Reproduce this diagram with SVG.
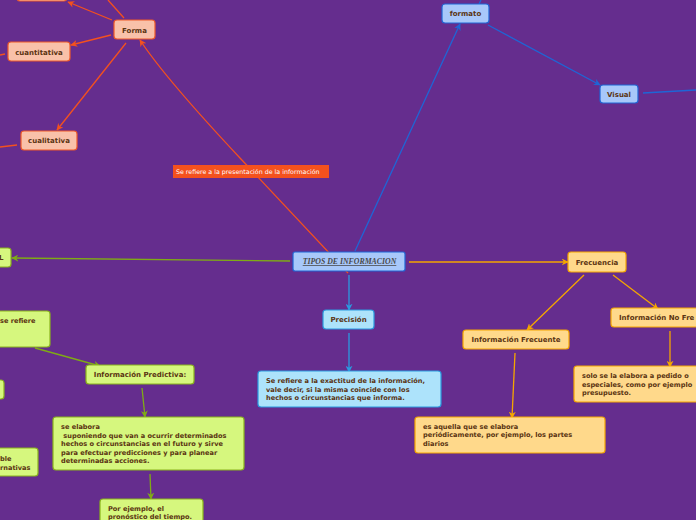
<svg xmlns="http://www.w3.org/2000/svg" width="696" height="520" viewBox="0 0 696 520">
<defs>
<style>
.t{font-family:"DejaVu Sans","Verdana",sans-serif;font-weight:bold;font-size:6.6px;fill:#5a3412}
.h{font-size:7px}
.tc{text-anchor:middle}
.pe rect{fill:#f9c1a9;stroke:#f05a28;stroke-width:1.2}
.bl rect{fill:#a8c8fa;stroke:#1e66d6;stroke-width:1.2}
.cy rect{fill:#ade3fb;stroke:#2a9be0;stroke-width:1.2}
.gr rect{fill:#d6f77e;stroke:#8ab41c;stroke-width:1.2}
.yl rect{fill:#ffd98b;stroke:#f5a600;stroke-width:1.2}
.co{fill:none;stroke-width:1.3}
.o{stroke:#f4511e}
.b{stroke:#1e66d6}
.c{stroke:#2a9be0}
.g{stroke:#7fab15}
.y{stroke:#f5a600}
</style>
<marker id="ao" viewBox="0 0 10 10" refX="9" refY="5" markerWidth="7" markerHeight="7" markerUnits="userSpaceOnUse" orient="auto"><path d="M0,0 L10,5 L0,10 L3,5 z" fill="#f4511e"/></marker>
<marker id="ab" viewBox="0 0 10 10" refX="9" refY="5" markerWidth="7" markerHeight="7" markerUnits="userSpaceOnUse" orient="auto"><path d="M0,0 L10,5 L0,10 L3,5 z" fill="#1e66d6"/></marker>
<marker id="ac" viewBox="0 0 10 10" refX="9" refY="5" markerWidth="7" markerHeight="7" markerUnits="userSpaceOnUse" orient="auto"><path d="M0,0 L10,5 L0,10 L3,5 z" fill="#2a9be0"/></marker>
<marker id="ag" viewBox="0 0 10 10" refX="9" refY="5" markerWidth="7" markerHeight="7" markerUnits="userSpaceOnUse" orient="auto"><path d="M0,0 L10,5 L0,10 L3,5 z" fill="#7fab15"/></marker>
<marker id="ay" viewBox="0 0 10 10" refX="9" refY="5" markerWidth="7" markerHeight="7" markerUnits="userSpaceOnUse" orient="auto"><path d="M0,0 L10,5 L0,10 L3,5 z" fill="#f5a600"/></marker>
</defs>
<rect width="696" height="520" fill="#652d8e"/>

<g id="connectors">
<path class="co o" d="M348,273 L240,158 Q165,78 140,40" marker-end="url(#ao)"/>
<path class="co o" d="M112,20 L68,2" marker-end="url(#ao)"/>
<path class="co o" d="M124,18 L108,0"/>
<path class="co o" d="M111,35 L71,45" marker-end="url(#ao)"/>
<path class="co o" d="M126,43 L57,130" marker-end="url(#ao)"/>
<path class="co o" d="M0,55 L5,54"/>
<path class="co o" d="M0,147 L17,145"/>
<path class="co b" d="M355,251 L460,24" marker-end="url(#ab)"/>
<path class="co b" d="M479,4 L481,0"/>
<path class="co b" d="M488,25 L600,85" marker-end="url(#ab)"/>
<path class="co b" d="M643,93 L696,90"/>
<path class="co g" d="M290,261 L12,258" marker-end="url(#ag)"/>
<path class="co g" d="M35,348 L100,366" marker-end="url(#ag)"/>
<path class="co g" d="M142,388 L145,417" marker-end="url(#ag)"/>
<path class="co g" d="M150,474 L151,499" marker-end="url(#ag)"/>
<path class="co c" d="M349,275 L349,310" marker-end="url(#ac)"/>
<path class="co c" d="M349,333 L349,372" marker-end="url(#ac)"/>
<path class="co y" d="M409,262 L568,262" marker-end="url(#ay)"/>
<path class="co y" d="M584,275 L527,330" marker-end="url(#ay)"/>
<path class="co y" d="M613,275 L658,309" marker-end="url(#ay)"/>
<path class="co y" d="M515,353 L512,418" marker-end="url(#ay)"/>
<path class="co y" d="M670,331 L670,367" marker-end="url(#ay)"/>
</g>

<g id="label-presentacion">
<rect x="173" y="165" width="156" height="13" fill="#f4511e"/>
<text x="176" y="174" font-family="DejaVu Sans, sans-serif" font-size="6.3" fill="#ffffff">Se refiere a la presentación de la información</text>
</g>

<g id="central" class="bl">
<rect x="293" y="252" width="112" height="19" rx="2"/>
<text x="349.5" y="264" text-anchor="middle" font-family="Liberation Serif, serif" font-weight="bold" font-style="italic" font-size="7.8" fill="#4a4a4a" text-decoration="underline">TIPOS DE INFORMACION</text>
</g>

<g id="forma" class="pe"><rect x="114" y="20" width="41" height="19" rx="3"/><text class="t h tc" x="134.5" y="33">Forma</text></g>
<g id="top-node" class="pe"><rect x="17" y="-19" width="50" height="20" rx="3"/></g>
<g id="cuantitativa" class="pe"><rect x="8" y="42" width="62" height="19" rx="3"/><text class="t h tc" x="39" y="55">cuantitativa</text></g>
<g id="cualitativa" class="pe"><rect x="21" y="131" width="56" height="19" rx="3"/><text class="t h tc" x="49" y="143">cualitativa</text></g>

<g id="formato" class="bl"><rect x="442" y="4" width="47" height="19" rx="3"/><text class="t h tc" x="465.5" y="16">formato</text></g>
<g id="visual" class="bl"><rect x="600" y="85" width="38" height="18" rx="3"/><text class="t h tc" x="619" y="97">Visual</text></g>

<g id="node-l" class="gr"><rect x="-20" y="248" width="31" height="19" rx="3"/><text class="t h" x="-1" y="260">L</text></g>
<g id="se-refiere" class="gr"><rect x="-20" y="311" width="70" height="36" rx="3"/><text class="t" x="0" y="323">se refiere</text></g>
<g id="node-small" class="gr"><rect x="-20" y="380" width="24" height="19" rx="3"/></g>
<g id="alternativas" class="gr"><rect x="-20" y="448" width="58" height="28" rx="3"/><text class="t" x="0" y="461">ble</text><text class="t" x="0" y="470">rnativas</text></g>
<g id="predictiva" class="gr"><rect x="86" y="365" width="108" height="19" rx="3"/><text class="t h tc" x="140" y="377">Información Predictiva:</text></g>
<g id="se-elabora" class="gr"><rect x="53" y="417" width="191" height="53" rx="3"/>
<text class="t" x="61" y="429">se elabora</text>
<text class="t" x="61" y="438" xml:space="preserve"> suponiendo que van a ocurrir determinados</text>
<text class="t" x="61" y="446">hechos o circunstancias en el futuro y sirve</text>
<text class="t" x="61" y="455">para efectuar predicciones y para planear</text>
<text class="t" x="61" y="463">determinadas acciones.</text>
</g>
<g id="por-ejemplo" class="gr"><rect x="100" y="499" width="103" height="32" rx="3"/>
<text class="t" x="108" y="511">Por ejemplo, el</text>
<text class="t" x="108" y="519">pronóstico del tiempo.</text>
</g>

<g id="precision" class="cy"><rect x="323" y="310" width="51" height="19" rx="3"/><text class="t h tc" x="348.5" y="322">Precisión</text></g>
<g id="precision-desc" class="cy"><rect x="258" y="371" width="183" height="36" rx="3"/>
<text class="t" x="266" y="383">Se refiere a la exactitud de la información,</text>
<text class="t" x="266" y="392">vale decir, si la misma coincide con los</text>
<text class="t" x="266" y="400">hechos o circunstancias que informa.</text>
</g>

<g id="frecuencia" class="yl"><rect x="568" y="252" width="58" height="20" rx="3"/><text class="t h tc" x="597" y="265">Frecuencia</text></g>
<g id="frecuente" class="yl"><rect x="463" y="330" width="106" height="19" rx="3"/><text class="t h tc" x="516" y="342">Información Frecuente</text></g>
<g id="no-frecuente" class="yl"><rect x="611" y="308" width="100" height="19" rx="3"/><text class="t h" x="619" y="320">Información No Fre</text></g>
<g id="frecuente-desc" class="yl"><rect x="415" y="417" width="190" height="36" rx="3"/>
<text class="t" x="423" y="429">es aquella que se elabora</text>
<text class="t" x="423" y="437">periódicamente, por ejemplo, los partes</text>
<text class="t" x="423" y="446">diarios</text>
</g>
<g id="no-frecuente-desc" class="yl"><rect x="574" y="366" width="140" height="36" rx="3"/>
<text class="t" x="582" y="378">solo se la elabora a pedido o</text>
<text class="t" x="582" y="387">especiales, como por ejemplo</text>
<text class="t" x="582" y="395">presupuesto.</text>
</g>
</svg>
